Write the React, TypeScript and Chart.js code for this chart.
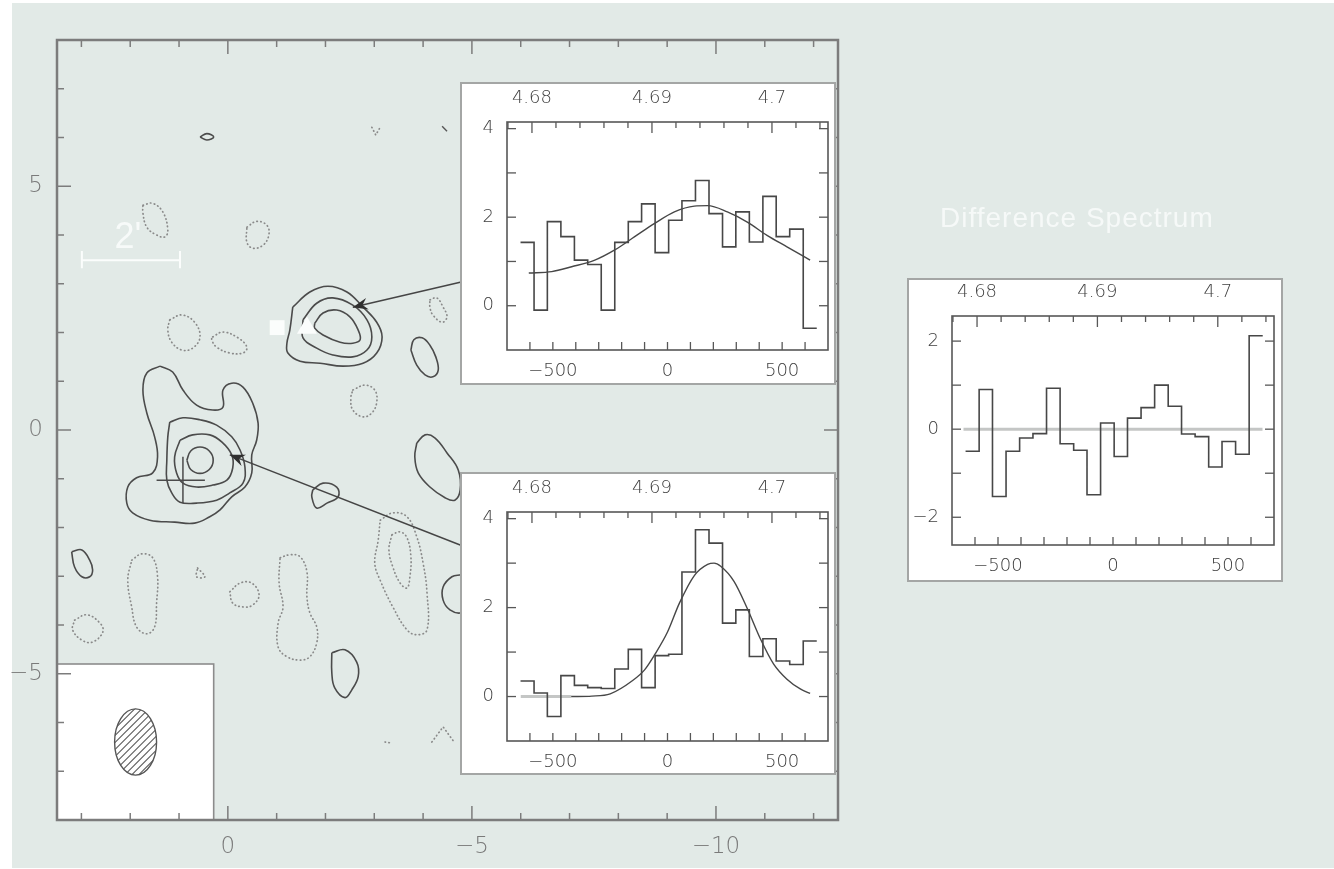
import React, { useEffect, useRef } from "react";
import { Chart, registerables } from "chart.js";

Chart.register(...registerables);

const FONT = '"Liberation Sans", Arial, Helvetica, sans-serif';
const TICK_FONT = '"DejaVu Sans", "Liberation Sans", sans-serif';
const PAGE_BG = "#e2eae7";

// ---------------- Map axes (arcmin offsets) ----------------
const mapXLimits = [-12.5, 3.5];
const mapYLimits = [-8, 8];
const mapXLabelTicks = [0, -5, -10];
const mapYLabelTicks = [5, 0, -5];
const mapXMinorTicks = [3, 2, 1, -1, -2, -3, -4, -6, -7, -8, -9, -11, -12];
const mapYMinorTicks = [7, 6, 4, 3, 2, 1, -1, -2, -3, -4, -6, -7];

// ---------------- Positive (solid) contours ----------------
const src1Outer = [[-1.33, 2.52], [-1.68, 2.83], [-2.05, 2.95], [-2.44, 2.83], [-2.77, 2.52], [-3.05, 2.21], [-3.16, 1.91], [-3.05, 1.58], [-2.77, 1.37], [-2.36, 1.31], [-1.89, 1.37], [-1.48, 1.41], [-1.23, 1.58], [-1.21, 1.78], [-1.27, 2.05]];
const src1Middle = [[-1.54, 2.26], [-1.82, 2.6], [-2.15, 2.71], [-2.56, 2.56], [-2.85, 2.26], [-2.95, 1.91], [-2.85, 1.64], [-2.56, 1.5], [-2.15, 1.54], [-1.82, 1.68], [-1.54, 1.89]];
const src1Inner = [[-1.78, 2.19], [-1.95, 2.4], [-2.23, 2.46], [-2.5, 2.32], [-2.67, 2.05], [-2.71, 1.85], [-2.56, 1.78], [-2.3, 1.8], [-1.95, 1.95], [-1.78, 2.09]];
const src2Outer = [[1.39, 1.31], [1.66, 1.17], [1.74, 0.82], [1.66, 0.35], [1.5, -0.14], [1.44, -0.55], [1.54, -0.88], [1.87, -0.98], [2.05, -1.17], [2.07, -1.5], [1.95, -1.7], [1.6, -1.85], [1.09, -1.89], [0.68, -1.91], [0.37, -1.78], [0.16, -1.64], [-0.08, -1.37], [-0.35, -1.17], [-0.49, -0.88], [-0.49, -0.51], [-0.59, -0.21], [-0.62, 0.14], [-0.51, 0.55], [-0.31, 0.88], [-0.08, 0.96], [0.1, 0.82], [0.1, 0.47], [0.31, 0.41], [0.64, 0.51], [0.92, 0.82], [1.13, 1.19]];
const src2Middle = [[1.19, 0.16], [0.92, 0.25], [0.57, 0.21], [0.23, 0.1], [-0.08, -0.14], [-0.25, -0.41], [-0.35, -0.76], [-0.31, -1.09], [-0.04, -1.29], [0.23, -1.44], [0.64, -1.5], [0.98, -1.48], [1.15, -1.29], [1.25, -1.03], [1.25, -0.62], [1.23, -0.14]];
const src2Inner = [[0.98, -0.21], [0.72, -0.1], [0.37, -0.1], [0.12, -0.25], [-0.08, -0.51], [-0.1, -0.78], [0.02, -1.03], [0.31, -1.13], [0.64, -1.17], [0.92, -1.09], [1.05, -0.88], [1.09, -0.55]];
const src2Core = [[0.84, -0.62], [0.76, -0.43], [0.57, -0.35], [0.38, -0.43], [0.3, -0.62], [0.38, -0.81], [0.57, -0.89], [0.76, -0.81]];
const blobNorth = [[0.57, 6.01], [0.43, 6.08], [0.29, 6.01], [0.43, 5.95]];
const blobEastA = [[-3.75, 1.64], [-3.81, 1.85], [-3.98, 1.89], [-4.14, 1.74], [-4.26, 1.5], [-4.31, 1.23], [-4.2, 1.09], [-4.04, 1.13], [-3.87, 1.33]];
const blobEastB = [[-3.87, -0.27], [-4.04, -0.1], [-4.24, -0.16], [-4.49, -0.47], [-4.72, -0.82], [-4.76, -1.23], [-4.65, -1.44], [-4.45, -1.39], [-4.14, -1.17], [-3.9, -0.88], [-3.83, -0.55]];
const blobMid = [[-1.74, -1.23], [-1.95, -1.09], [-2.23, -1.17], [-2.26, -1.37], [-2.03, -1.5], [-1.82, -1.6], [-1.72, -1.37]];
const blobEdge = [[-4.78, -2.97], [-4.59, -3.01], [-4.41, -3.22], [-4.41, -3.49], [-4.55, -3.69], [-4.78, -3.75], [-5.0, -3.59], [-5.04, -3.28], [-4.92, -3.03]];
const blobWest = [[3.2, -2.5], [2.99, -2.46], [2.83, -2.67], [2.77, -2.87], [2.83, -3.01], [2.99, -3.01], [3.14, -2.81]];
const blobSouth = [[-2.13, -4.57], [-2.4, -4.51], [-2.64, -4.76], [-2.67, -5.06], [-2.54, -5.33], [-2.4, -5.49], [-2.19, -5.29], [-2.13, -4.98]];
const solidOpenBits = [[[-4.39, 6.23], [-4.49, 6.13]]];

// ---------------- Negative (dotted) contours ----------------
const neg1 = [[1.74, 4.61], [1.54, 4.65], [1.33, 4.47], [1.23, 4.1], [1.29, 3.96], [1.46, 4.0], [1.66, 4.16], [1.74, 4.45]];
const neg2 = [[-0.39, 4.16], [-0.59, 4.28], [-0.8, 4.2], [-0.84, 4.0], [-0.72, 3.79], [-0.51, 3.73], [-0.39, 3.85]];
const neg3 = [[1.19, 2.26], [0.94, 2.36], [0.68, 2.21], [0.57, 1.91], [0.72, 1.68], [0.94, 1.64], [1.15, 1.8], [1.23, 2.05]];
const neg4 = [[0.31, 1.91], [0.1, 2.01], [-0.21, 1.89], [-0.39, 1.7], [-0.31, 1.58], [-0.04, 1.58], [0.23, 1.7], [0.33, 1.85]];
const neg5 = [[-4.14, 2.67], [-4.28, 2.71], [-4.41, 2.52], [-4.49, 2.32], [-4.39, 2.21], [-4.2, 2.36], [-4.14, 2.52]];
const neg6 = [[-2.56, 0.82], [-2.81, 0.92], [-3.01, 0.82], [-3.05, 0.57], [-2.95, 0.35], [-2.77, 0.27], [-2.56, 0.41], [-2.52, 0.66]];
const neg7 = [[1.97, -2.67], [1.76, -2.54], [1.54, -2.62], [1.44, -3.01], [1.46, -3.55], [1.5, -4.04], [1.66, -4.18], [1.87, -4.04], [1.97, -3.63], [2.05, -3.08]];
const neg8 = [[3.14, -3.9], [2.89, -3.79], [2.62, -3.96], [2.56, -4.14], [2.77, -4.35], [2.99, -4.31], [3.18, -4.1]];
const neg9 = [[0.62, -2.83], [0.47, -3.01], [0.64, -3.01]];
const neg10 = [[-0.04, -3.32], [-0.25, -3.14], [-0.49, -3.14], [-0.64, -3.38], [-0.51, -3.59], [-0.31, -3.63], [-0.1, -3.55]];
const neg11 = [[-1.07, -2.62], [-1.27, -2.56], [-1.48, -2.6], [-1.62, -2.91], [-1.62, -3.42], [-1.68, -3.75], [-1.82, -4.04], [-1.82, -4.37], [-1.68, -4.65], [-1.48, -4.72], [-1.21, -4.65], [-1.03, -4.45], [-1.03, -3.96], [-1.13, -3.63], [-1.05, -3.14]];
const neg12 = [[-3.12, -1.85], [-3.38, -1.7], [-3.67, -1.78], [-3.87, -2.19], [-4.0, -2.73], [-4.08, -3.34], [-4.08, -4.1], [-3.87, -4.2], [-3.67, -4.1], [-3.38, -3.63], [-3.12, -3.08], [-3.01, -2.73], [-3.08, -2.26]];
const neg13 = [[-3.36, -2.15], [-3.53, -2.09], [-3.67, -2.21], [-3.75, -2.6], [-3.73, -3.01], [-3.67, -3.24], [-3.53, -3.14], [-3.38, -2.81], [-3.3, -2.46]];
const negOpenBits = [
  [[-2.95, 6.21], [-3.03, 6.05], [-3.11, 6.19]],
  [[-4.18, -6.4], [-4.41, -6.09], [-4.65, -6.42]],
  [[-3.22, -6.4], [-3.34, -6.42]],
];

const solidContours = [src1Outer, src1Middle, src1Inner, src2Outer, src2Middle, src2Inner, src2Core, blobNorth, blobEastA, blobEastB, blobMid, blobEdge, blobWest, blobSouth];
const dottedContours = [neg1, neg2, neg3, neg4, neg5, neg6, neg7, neg8, neg9, neg10, neg11, neg12, neg13];

// ---------------- Annotations on the map ----------------
const arrowToSource1 = [[-4.76, 3.03], [-2.56, 2.52]];
const arrowToSource2 = [[-4.76, -2.36], [-0.04, -0.51]];
const crossH = [[1.46, -1.03], [0.47, -1.03]];
const crossV = [[0.92, -0.55], [0.92, -1.5]];
const whiteSquare = [-1.01, 2.1];
const whiteTriangle = [-1.62, 2.09];
const scaleBar = [[2.99, 3.48], [0.98, 3.48]];
const scaleBarCapL = [[2.99, 3.67], [2.99, 3.32]];
const scaleBarCapR = [[0.98, 3.67], [0.98, 3.32]];
const beamBoxCorner = [0.29, -4.8];
const beamCenter = [1.89, -6.4];
const beamAxes = [0.86, 1.36];

// ---------------- Spectra ----------------
const velocityLimits = [-700, 700];
const velocityLabelTicks = [-500, 0, 500];
const velocityMinorTicks = [-600, -500, -400, -300, -200, -100, 0, 100, 200, 300, 400, 500, 600];
const freqLimits = [4.67792, 4.70467];
const freqLabelTicks = [4.68, 4.69, 4.7];
const freqMinorTicks = [4.678, 4.682, 4.684, 4.686, 4.688, 4.692, 4.694, 4.696, 4.698, 4.702, 4.704];
const channelEdges = [-641, -582, -524, -465, -406, -348, -289, -230, -171, -113, -54, 5, 63, 122, 181, 240, 298, 357, 416, 474, 533, 592, 651];

const spec1Flux = [1.43, -0.1, 1.9, 1.56, 1.03, 0.93, -0.1, 1.43, 1.9, 2.3, 1.2, 1.93, 2.37, 2.83, 2.08, 1.33, 2.12, 1.44, 2.47, 1.56, 1.73, -0.51];
const spec1Fit = [[-605, 0.74], [-505, 0.77], [-418, 0.88], [-317, 1.03], [-230, 1.26], [-143, 1.56], [-56, 1.86], [30, 2.12], [117, 2.25], [175, 2.26], [261, 2.12], [348, 1.89], [434, 1.59], [521, 1.33], [622, 1.03]];
const spec2Flux = [0.35, 0.08, -0.45, 0.47, 0.25, 0.2, 0.18, 0.62, 1.06, 0.2, 0.92, 0.95, 2.8, 3.75, 3.45, 1.65, 1.95, 0.9, 1.3, 0.8, 0.72, 1.25];
const spec2Fit = [[-420, 0.0], [-330, 0.01], [-250, 0.06], [-152, 0.36], [-100, 0.6], [-56, 0.94], [0, 1.45], [52, 2.1], [117, 2.72], [175, 2.97], [203, 3.0], [232, 2.93], [290, 2.59], [348, 1.98], [405, 1.3], [463, 0.73], [521, 0.39], [579, 0.17], [622, 0.07]];
const spec2Baseline = [[-640, 0], [-420, 0]];
const diffFlux = [-0.5, 0.9, -1.53, -0.5, -0.2, -0.1, 0.93, -0.33, -0.48, -1.49, 0.14, -0.62, 0.25, 0.49, 1.0, 0.52, -0.11, -0.17, -0.86, -0.28, -0.57, 2.12];
const diffBaseline = [[-650, 0], [650, 0]];

const fluxLimits = [-1, 4.15];
const fluxLabelTicks = [4, 2, 0];
const fluxMinorTicks = [0, 1, 2, 3, 4];
const diffLimits = [-2.63, 2.57];
const diffLabelTicks = [2, 0, -2];
const diffMinorTicks = [-2, -1, 0, 1, 2];

// ---------------- helpers ----------------
const fmt = (v: number) => (v < 0 ? "\u2212" + Math.abs(v) : String(v));
const pts = (arr: number[][]) => arr.map(([x, y]) => ({ x, y }));
const closed = (arr: number[][]) => pts([...arr, arr[0]]);

function drawTicks(ctx: CanvasRenderingContext2D, chart: any, specs: any[]) {
  const a = chart.chartArea;
  specs.forEach((s) => {
    const sc = chart.scales[s.axis];
    s.values.forEach((v: number) => {
      ctx.beginPath();
      if (s.side === "bottom" || s.side === "top") {
        const px = sc.getPixelForValue(v);
        if (px < a.left - 0.5 || px > a.right + 0.5) return;
        if (s.side === "bottom") { ctx.moveTo(px, a.bottom); ctx.lineTo(px, a.bottom - s.length); }
        else { ctx.moveTo(px, a.top); ctx.lineTo(px, a.top + s.length); }
      } else {
        const py = sc.getPixelForValue(v);
        if (py < a.top - 0.5 || py > a.bottom + 0.5) return;
        if (s.side === "left") { ctx.moveTo(a.left, py); ctx.lineTo(a.left + s.length, py); }
        else { ctx.moveTo(a.right, py); ctx.lineTo(a.right - s.length, py); }
      }
      ctx.stroke();
    });
  });
}

function drawArrowHead(ctx: CanvasRenderingContext2D, x0: number, y0: number, x1: number, y1: number) {
  const ang = Math.atan2(y1 - y0, x1 - x0);
  ctx.save();
  ctx.translate(x1, y1);
  ctx.rotate(ang);
  ctx.beginPath();
  ctx.moveTo(0, 0);
  ctx.lineTo(-15, -6);
  ctx.lineTo(-10, 0);
  ctx.lineTo(-15, 6);
  ctx.closePath();
  ctx.fillStyle = "#2f2f2f";
  ctx.fill();
  ctx.restore();
}

function buildMap(canvas: HTMLCanvasElement) {
  const datasets: any[] = [];
  const white = "#fbfdfc";
  datasets.push({ data: pts([whiteSquare]), pointStyle: "rect", pointRadius: 10.5, backgroundColor: white, borderWidth: 0, order: 0 });
  datasets.push({ data: pts([whiteTriangle]), pointStyle: "triangle", pointRadius: 11.5, backgroundColor: white, borderWidth: 0, order: 0 });
  [scaleBar, scaleBarCapL, scaleBarCapR].forEach((seg) =>
    datasets.push({ data: pts(seg), showLine: true, borderColor: white, borderWidth: 2, pointRadius: 0, order: 0 })
  );
  [arrowToSource1, arrowToSource2].forEach((seg) =>
    datasets.push({ data: pts(seg), showLine: true, borderColor: "#454545", borderWidth: 1.5, pointRadius: 0, order: 1, arrow: true })
  );
  [crossH, crossV].forEach((seg) =>
    datasets.push({ data: pts(seg), showLine: true, borderColor: "#4b4b4b", borderWidth: 1.5, pointRadius: 0, order: 1 })
  );
  solidContours.forEach((c) =>
    datasets.push({ data: closed(c), showLine: true, borderColor: "#4b4b4b", borderWidth: 1.6, tension: 0.4, pointRadius: 0, order: 2 })
  );
  solidOpenBits.forEach((c) =>
    datasets.push({ data: pts(c), showLine: true, borderColor: "#555", borderWidth: 1.4, pointRadius: 0, order: 2 })
  );
  dottedContours.forEach((c) =>
    datasets.push({ data: closed(c), showLine: true, borderColor: "#8a8a8a", borderWidth: 1.7, borderDash: [0.5, 3.4], borderCapStyle: "round", tension: 0.4, pointRadius: 0, order: 2 })
  );
  negOpenBits.forEach((c) =>
    datasets.push({ data: pts(c), showLine: true, borderColor: "#8a8a8a", borderWidth: 1.7, borderDash: [0.5, 3.4], borderCapStyle: "round", pointRadius: 0, order: 2 })
  );

  const tickSpecs = [
    { axis: "x", side: "bottom", values: mapXMinorTicks, length: 7 },
    { axis: "x", side: "bottom", values: mapXLabelTicks, length: 14 },
    { axis: "x", side: "top", values: mapXMinorTicks, length: 7 },
    { axis: "x", side: "top", values: mapXLabelTicks, length: 14 },
    { axis: "y", side: "left", values: mapYMinorTicks, length: 7 },
    { axis: "y", side: "left", values: mapYLabelTicks, length: 14 },
    { axis: "y", side: "right", values: mapYMinorTicks, length: 7 },
    { axis: "y", side: "right", values: mapYLabelTicks, length: 14 },
  ];

  const decor = {
    id: "mapDecor",
    beforeDraw(chart: any) {
      const { ctx, width, height } = chart;
      ctx.save();
      ctx.fillStyle = "#ffffff";
      ctx.fillRect(0, 0, width, height);
      ctx.fillStyle = PAGE_BG;
      ctx.fillRect(12, 3, width - 12, height - 4);
      ctx.restore();
    },
    afterDatasetsDraw(chart: any) {
      const { ctx, chartArea: a } = chart;
      const x = chart.scales.x, y = chart.scales.y;
      ctx.save();
      chart.data.datasets.forEach((ds: any, i: number) => {
        if (!ds.arrow) return;
        const p = chart.getDatasetMeta(i).data;
        drawArrowHead(ctx, p[0].x, p[0].y, p[1].x, p[1].y);
      });
      // beam box
      const bx1 = x.getPixelForValue(beamBoxCorner[0]);
      const by0 = y.getPixelForValue(beamBoxCorner[1]);
      ctx.fillStyle = "#ffffff";
      ctx.fillRect(a.left, by0, bx1 - a.left, a.bottom - by0);
      ctx.strokeStyle = "#8c8c8c";
      ctx.lineWidth = 1.6;
      ctx.strokeRect(a.left, by0, bx1 - a.left, a.bottom - by0);
      const cx = x.getPixelForValue(beamCenter[0]);
      const cy = y.getPixelForValue(beamCenter[1]);
      const rx = Math.abs(x.getPixelForValue(beamCenter[0] + beamAxes[0] / 2) - cx);
      const ry = Math.abs(y.getPixelForValue(beamCenter[1] + beamAxes[1] / 2) - cy);
      ctx.save();
      ctx.beginPath();
      ctx.ellipse(cx, cy, rx, ry, 0, 0, Math.PI * 2);
      ctx.clip();
      ctx.strokeStyle = "#5a5a5a";
      ctx.lineWidth = 1.1;
      for (let k = -90; k <= 90; k += 7) {
        ctx.beginPath();
        ctx.moveTo(cx + k - 60, cy + 60);
        ctx.lineTo(cx + k + 60, cy - 60);
        ctx.stroke();
      }
      ctx.restore();
      ctx.beginPath();
      ctx.ellipse(cx, cy, rx, ry, 0, 0, Math.PI * 2);
      ctx.strokeStyle = "#555";
      ctx.lineWidth = 1.4;
      ctx.stroke();
      // scale bar label
      const sbx = (x.getPixelForValue(scaleBar[0][0]) + x.getPixelForValue(scaleBar[1][0])) / 2;
      const sby = y.getPixelForValue(scaleBar[0][1]);
      ctx.font = `36px ${FONT}`;
      ctx.fillStyle = "#f7faf9";
      ctx.textAlign = "center";
      ctx.textBaseline = "alphabetic";
      ctx.fillText("2'", sbx - 3, sby - 12);
      // frame and ticks
      ctx.strokeStyle = "#7c7c7c";
      ctx.lineWidth = 1.5;
      drawTicks(ctx, chart, tickSpecs);
      ctx.lineWidth = 2.5;
      ctx.strokeRect(a.left, a.top, a.right - a.left, a.bottom - a.top);
      ctx.restore();
    },
  };

  const tickFont = { family: TICK_FONT, size: 23, weight: "200" };
  return new Chart(canvas, {
    type: "scatter",
    data: { datasets },
    options: {
      responsive: false,
      animation: false,
      events: [],
      layout: { padding: { left: 0, top: 40, right: 1334 - 838, bottom: 0 } },
      plugins: { legend: { display: false }, tooltip: { enabled: false } },
      scales: {
        x: {
          type: "linear",
          reverse: true,
          min: mapXLimits[0],
          max: mapXLimits[1],
          afterBuildTicks: (s: any) => { s.ticks = mapXLabelTicks.map((v) => ({ value: v })); },
          afterFit: (s: any) => { s.height = 49; },
          grid: { display: false, drawTicks: false },
          border: { display: false },
          ticks: { font: tickFont, color: "#7a7a7a", padding: 13, maxRotation: 0, autoSkip: false, callback: (v: any) => fmt(Number(v)) },
        },
        y: {
          type: "linear",
          min: mapYLimits[0],
          max: mapYLimits[1],
          afterBuildTicks: (s: any) => { s.ticks = mapYLabelTicks.map((v) => ({ value: v })); },
          afterFit: (s: any) => { s.width = 57; },
          grid: { display: false, drawTicks: false },
          border: { display: false },
          ticks: { font: tickFont, color: "#7a7a7a", padding: 14, autoSkip: false, callback: (v: any) => fmt(Number(v)) },
        },
      },
    } as any,
    plugins: [decor],
  });
}

function buildSpectrum(canvas: HTMLCanvasElement, cfg: any) {
  const step = cfg.flux.map((v: number, i: number) => ({ x: channelEdges[i], y: v }));
  step.push({ x: channelEdges[channelEdges.length - 1], y: cfg.flux[cfg.flux.length - 1] });
  const datasets: any[] = [];
  if (cfg.baseline)
    datasets.push({ data: pts(cfg.baseline), showLine: true, borderColor: "#c4c6c5", borderWidth: 3, pointRadius: 0, order: 3 });
  datasets.push({ data: step, showLine: true, stepped: true, borderColor: "#474747", borderWidth: 1.6, pointRadius: 0, order: 1 });
  if (cfg.fit)
    datasets.push({ data: pts(cfg.fit), showLine: true, cubicInterpolationMode: "monotone", borderColor: "#474747", borderWidth: 1.4, pointRadius: 0, order: 0 });

  const tickSpecs = [
    { axis: "x", side: "bottom", values: velocityMinorTicks, length: 8 },
    { axis: "x2", side: "top", values: freqMinorTicks, length: 6 },
    { axis: "x2", side: "top", values: freqLabelTicks, length: 11 },
    { axis: "y", side: "left", values: cfg.yMinor, length: 9 },
    { axis: "y", side: "right", values: cfg.yMinor, length: 9 },
  ];
  const frame = {
    id: "specFrame",
    beforeDraw(chart: any) {
      const { ctx, width, height } = chart;
      ctx.save();
      ctx.fillStyle = "#ffffff";
      ctx.fillRect(0, 0, width, height);
      ctx.strokeStyle = "#a4a6a5";
      ctx.lineWidth = 2;
      ctx.strokeRect(1, 1, width - 2, height - 2);
      ctx.restore();
    },
    afterDatasetsDraw(chart: any) {
      const { ctx, chartArea: a } = chart;
      ctx.save();
      ctx.strokeStyle = "#575757";
      ctx.lineWidth = 1.3;
      drawTicks(ctx, chart, tickSpecs);
      ctx.lineWidth = 1.6;
      ctx.strokeRect(a.left, a.top, a.right - a.left, a.bottom - a.top);
      ctx.restore();
    },
  };
  const font = { family: TICK_FONT, size: 18, weight: "200" };
  const color = "#404040";
  return new Chart(canvas, {
    type: "scatter",
    data: { datasets },
    options: {
      responsive: false,
      animation: false,
      events: [],
      layout: { padding: { left: 0, top: 0, right: cfg.pad.right, bottom: 0 } },
      plugins: { legend: { display: false }, tooltip: { enabled: false } },
      scales: {
        x: {
          type: "linear",
          position: "bottom",
          min: velocityLimits[0],
          max: velocityLimits[1],
          afterBuildTicks: (s: any) => { s.ticks = velocityLabelTicks.map((v) => ({ value: v })); },
          afterFit: (s: any) => { s.height = cfg.pad.bottom; },
          grid: { display: false, drawTicks: false },
          border: { display: false },
          ticks: { font, color, padding: 11, maxRotation: 0, autoSkip: false, callback: (v: any) => fmt(Number(v)) },
        },
        x2: {
          type: "linear",
          position: "top",
          min: freqLimits[0],
          max: freqLimits[1],
          afterBuildTicks: (s: any) => { s.ticks = freqLabelTicks.map((v) => ({ value: v })); },
          afterFit: (s: any) => { s.height = cfg.pad.top; },
          grid: { display: false, drawTicks: false },
          border: { display: false },
          ticks: { font, color, padding: 13, maxRotation: 0, autoSkip: false, callback: (v: any) => String(v) },
        },
        y: {
          type: "linear",
          min: cfg.yLimits[0],
          max: cfg.yLimits[1],
          afterBuildTicks: (s: any) => { s.ticks = cfg.yLabels.map((v: number) => ({ value: v })); },
          afterFit: (s: any) => { s.width = cfg.pad.left; },
          grid: { display: false, drawTicks: false },
          border: { display: false },
          ticks: { font, color, padding: 13, autoSkip: false, callback: (v: any) => fmt(Number(v)) },
        },
      },
    } as any,
    plugins: [frame],
  });
}

const panel1 = { left: 460, top: 82, width: 376, height: 303 };
const panel2 = { left: 460, top: 472, width: 376, height: 303 };
const panelDiff = { left: 907, top: 278, width: 376, height: 304 };

export default function App() {
  const mapRef = useRef<HTMLCanvasElement>(null);
  const s1Ref = useRef<HTMLCanvasElement>(null);
  const s2Ref = useRef<HTMLCanvasElement>(null);
  const dRef = useRef<HTMLCanvasElement>(null);

  useEffect(() => {
    const charts = [
      buildMap(mapRef.current!),
      buildSpectrum(s1Ref.current!, {
        flux: spec1Flux, fit: spec1Fit, yLimits: fluxLimits, yLabels: fluxLabelTicks, yMinor: fluxMinorTicks,
        pad: { left: 47, top: 40, right: 8, bottom: 35 },
      }),
      buildSpectrum(s2Ref.current!, {
        flux: spec2Flux, fit: spec2Fit, baseline: spec2Baseline, yLimits: fluxLimits, yLabels: fluxLabelTicks, yMinor: fluxMinorTicks,
        pad: { left: 47, top: 40, right: 8, bottom: 34 },
      }),
      buildSpectrum(dRef.current!, {
        flux: diffFlux, baseline: diffBaseline, yLimits: diffLimits, yLabels: diffLabelTicks, yMinor: diffMinorTicks,
        pad: { left: 45, top: 38, right: 9, bottom: 37 },
      }),
    ];
    return () => charts.forEach((c) => c.destroy());
  }, []);

  const cv = (p: any) => ({ position: "absolute" as const, left: p.left, top: p.top, width: p.width, height: p.height });

  return (
    <div style={{ position: "absolute", left: 0, top: 0, width: 1334, height: 869, overflow: "hidden" }}>
      <canvas ref={mapRef} width={1334} height={869} style={{ position: "absolute", left: 0, top: 0, width: 1334, height: 869 }} />
      <canvas ref={s1Ref} width={panel1.width} height={panel1.height} style={cv(panel1)} />
      <canvas ref={s2Ref} width={panel2.width} height={panel2.height} style={cv(panel2)} />
      <canvas ref={dRef} width={panelDiff.width} height={panelDiff.height} style={cv(panelDiff)} />
      <div
        style={{
          position: "absolute",
          left: 940,
          top: 204,
          font: `28px ${FONT}`,
          lineHeight: "28px",
          letterSpacing: "1px",
          color: "#f6f9f8",
          whiteSpace: "nowrap",
        }}
      >
        Difference Spectrum
      </div>
    </div>
  );
}
